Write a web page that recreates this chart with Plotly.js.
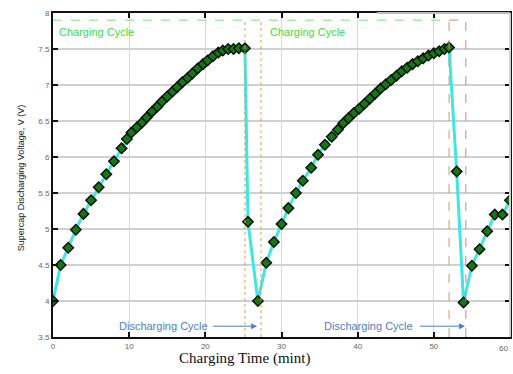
<!DOCTYPE html>
<html>
<head>
<meta charset="utf-8">
<script src="https://cdn.plot.ly/plotly-3.0.1.min.js"></script>
<style>html,body{margin:0;padding:0;background:#fff;overflow:hidden;}#chart{width:513px;height:374px;}</style>
</head>
<body>
<div id="chart"></div>
<script>
// Time (min) and supercap voltage (V)
var timeMin = [0, 1, 2, 3, 4, 5, 6, 7, 8, 9, 9.7, 10.3, 11, 11.7, 12.3, 13, 13.7, 14.3, 15, 15.7, 16.3, 17, 17.7, 18.3, 19, 19.7, 20.3, 21, 21.7, 22.3, 23, 23.7, 24.4, 25.2,
  25.6, 26.9,
  28, 29, 30, 30.9, 31.9, 32.8, 33.9, 34.8, 35.7, 36.6, 37.4, 38.1, 38.8, 39.5, 40.2, 40.9, 41.6, 42.3, 43, 43.7, 44.4, 45.1, 45.8, 46.5, 47.2, 47.9, 48.6, 49.3, 50, 50.7, 51.4, 52,
  53, 53.9,
  55, 56, 57, 58, 59, 60];
var voltage = [4.0, 4.5, 4.74, 4.99, 5.21, 5.40, 5.58, 5.76, 5.94, 6.12, 6.25, 6.34, 6.41, 6.48, 6.55, 6.63, 6.7, 6.77, 6.84, 6.91, 6.97, 7.04, 7.1, 7.16, 7.23, 7.29, 7.34, 7.4, 7.45, 7.48, 7.5, 7.5, 7.51, 7.51,
  5.1, 4.0,
  4.53, 4.82, 5.07, 5.29, 5.5, 5.67, 5.85, 6.03, 6.17, 6.28, 6.38, 6.47, 6.54, 6.61, 6.67, 6.74, 6.81, 6.88, 6.95, 7.01, 7.07, 7.13, 7.19, 7.24, 7.29, 7.33, 7.37, 7.41, 7.44, 7.47, 7.5, 7.52,
  5.8, 3.98,
  4.49, 4.72, 4.97, 5.2, 5.2, 5.4];

// Cycle boundaries (min)
var dischargeStart = [25.2, 52.0];
var dischargeEnd = [27.3, 54.2];
var boxTop = 7.9;

var cycleLabels = ["Charging Cycle", "Discharging Cycle"];
var chargeLabelX = [0.5, 28.2];
var chargeLabelY = 7.74;
var dischargeLabelX = [8.4, 35.3];
var dischargeArrowFrom = [20.8, 48.0];
var dischargeArrowTo = [26.8, 54.1];
var dischargeLabelY = 3.65;

var xTicks = [0, 10, 20, 30, 40, 50, 60];
var yTicks = [3.5, 4, 4.5, 5, 5.5, 6, 6.5, 7, 7.5, 8];

var trace = {
  x: timeMin, y: voltage, type: 'scatter', mode: 'lines+markers',
  line: {color: '#40e6e0', width: 3},
  marker: {symbol: 'diamond', size: 8, color: '#17761a', line: {color: '#0a150a', width: 1.5}},
  showlegend: false, hoverinfo: 'skip'
};

var shapes = [
  {type: 'line', xref: 'x', yref: 'y', x0: 0, x1: dischargeEnd[1], y0: boxTop, y1: boxTop,
   line: {color: '#7ee07e', width: 1, dash: 'dash'}, layer: 'above'},
  {type: 'line', xref: 'x', yref: 'y', x0: dischargeStart[0], x1: dischargeStart[0], y0: 3.5, y1: boxTop,
   line: {color: '#c8a464', width: 1, dash: 'dot'}, layer: 'above'},
  {type: 'line', xref: 'x', yref: 'y', x0: dischargeEnd[0], x1: dischargeEnd[0], y0: 3.5, y1: boxTop,
   line: {color: '#d4a060', width: 1, dash: 'dot'}, layer: 'above'},
  {type: 'line', xref: 'x', yref: 'y', x0: dischargeStart[1], x1: dischargeStart[1], y0: 3.5, y1: boxTop,
   line: {color: '#c89a6a', width: 1, dash: 'dash'}, layer: 'above'},
  {type: 'line', xref: 'x', yref: 'y', x0: dischargeEnd[1], x1: dischargeEnd[1], y0: 3.5, y1: boxTop,
   line: {color: '#e08080', width: 1, dash: 'dash'}, layer: 'above'},
  {type: 'line', xref: 'x', yref: 'y', x0: dischargeStart[1], x1: dischargeEnd[1], y0: boxTop, y1: boxTop,
   line: {color: '#e0a0a0', width: 1, dash: 'dash'}, layer: 'above'},
  // faded parts of the frame
  {type: 'line', xref: 'x', yref: 'paper', x0: 42.5, x1: 60, y0: 1, y1: 1,
   line: {color: '#bdbdbd', width: 2}, layer: 'above'},
  {type: 'line', xref: 'paper', yref: 'paper', x0: 1, x1: 1, y0: 0, y1: 1,
   line: {color: '#d0d0d0', width: 2}, layer: 'above'}
];

var annotations = [
  {x: chargeLabelX[0], y: chargeLabelY, xref: 'x', yref: 'y', text: cycleLabels[0], showarrow: false,
   xanchor: 'left', yanchor: 'middle', font: {family: 'Arial, Liberation Sans', size: 11, color: '#3ddc3d'}},
  {x: chargeLabelX[1], y: chargeLabelY, xref: 'x', yref: 'y', text: cycleLabels[0], showarrow: false,
   xanchor: 'left', yanchor: 'middle', font: {family: 'Arial, Liberation Sans', size: 11, color: '#3ddc3d'}},
  {x: dischargeLabelX[0], y: dischargeLabelY, xref: 'x', yref: 'y', text: cycleLabels[1], showarrow: false,
   xanchor: 'left', yanchor: 'middle', font: {family: 'Arial, Liberation Sans', size: 11, color: '#5080c0'}},
  {x: dischargeLabelX[1], y: dischargeLabelY, xref: 'x', yref: 'y', text: cycleLabels[1], showarrow: false,
   xanchor: 'left', yanchor: 'middle', font: {family: 'Arial, Liberation Sans', size: 11, color: '#5080c0'}},
  {x: dischargeArrowTo[0], y: dischargeLabelY, ax: dischargeArrowFrom[0], ay: dischargeLabelY,
   xref: 'x', yref: 'y', axref: 'x', ayref: 'y', text: '', showarrow: true,
   arrowhead: 2, arrowsize: 1.2, arrowwidth: 1, arrowcolor: '#5080c0'},
  {x: dischargeArrowTo[1], y: dischargeLabelY, ax: dischargeArrowFrom[1], ay: dischargeLabelY,
   xref: 'x', yref: 'y', axref: 'x', ayref: 'y', text: '', showarrow: true,
   arrowhead: 2, arrowsize: 1.2, arrowwidth: 1, arrowcolor: '#5080c0'},
  {x: xTicks[6], y: -0.035, xref: 'x', yref: 'paper', text: String(xTicks[6]), showarrow: false,
   xanchor: 'right', yanchor: 'middle', font: {family: 'Arial, Liberation Sans', size: 8, color: '#666'}},
  {x: 0.418, y: -0.065, xref: 'paper', yref: 'paper', text: 'Charging Time (mint)', showarrow: false,
   xanchor: 'center', yanchor: 'middle', font: {family: 'Liberation Serif, Times New Roman, serif', size: 15, color: '#111'}},
  {x: -0.07, y: 0.49, xref: 'paper', yref: 'paper', text: 'Supercap Discharging Voltage, V (V)', showarrow: false,
   textangle: -90, xanchor: 'center', yanchor: 'middle', font: {family: 'Arial, Liberation Sans', size: 9, color: '#222'}}
];

var layout = {
  width: 513, height: 374,
  margin: {l: 53, r: 3, t: 13, b: 37, pad: 0},
  paper_bgcolor: '#ffffff', plot_bgcolor: '#ffffff',
  xaxis: {
    range: [0, 60], tickvals: xTicks.slice(0, 6), ticktext: xTicks.slice(0, 6).map(String),
    showgrid: true, gridcolor: '#d8d8d8', gridwidth: 1,
    zeroline: false, showline: true, linecolor: '#111', linewidth: 2, mirror: 'ticks',
    ticks: 'inside', ticklen: 5, tickwidth: 2, tickcolor: '#111',
    tickfont: {family: 'Arial, Liberation Sans', size: 8, color: '#666'}
  },
  yaxis: {
    range: [3.5, 8], tickvals: yTicks, ticktext: yTicks.map(String),
    showgrid: true, gridcolor: '#d0d0d0', gridwidth: 1.5,
    zeroline: false, showline: true, linecolor: '#111', linewidth: 2, mirror: 'ticks',
    ticks: 'inside', ticklen: 5, tickwidth: 2, tickcolor: '#111',
    tickfont: {family: 'Arial, Liberation Sans', size: 8, color: '#666'}
  },
  shapes: shapes,
  annotations: annotations,
  showlegend: false
};

Plotly.newPlot('chart', [trace], layout, {displayModeBar: false, staticPlot: true});
</script>
</body>
</html>
